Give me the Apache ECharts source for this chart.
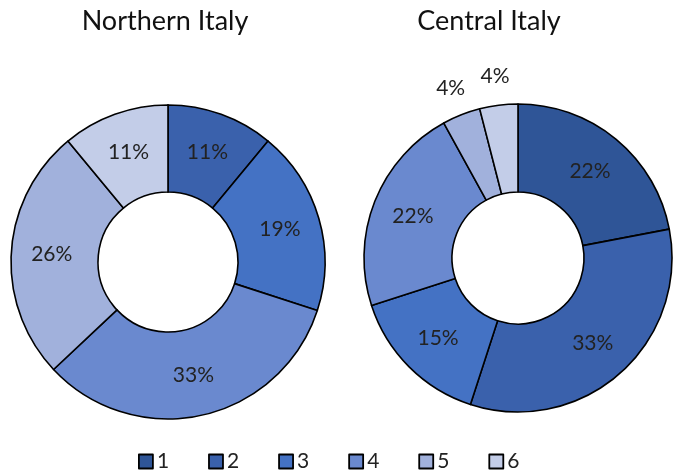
<!DOCTYPE html>
<html><head><meta charset="utf-8">
<script src="https://cdn.jsdelivr.net/npm/echarts@6/dist/echarts.min.js"></script>
<style>html,body{margin:0;padding:0;background:#fff}#c{width:683px;height:476px}</style>
</head><body><div id="c"></div>
<script>
const categories = ['1','2','3','4','5','6'];
const northernValues = [0, 11, 19, 33, 26, 11];
const centralValues = [22, 33, 15, 22, 4, 4];
const titles = ['Northern Italy', 'Central Italy'];
const colors = ['#2F5597', '#3A61AC', '#4472C4', '#6A89CF', '#A1B1DC', '#C3CDE8'];
const FONT = 'Lato';

const chart = echarts.init(document.getElementById('c'));
function mkData(vals, outsideSmall) {
  return categories.map((c, i) => {
    const d = { name: c, value: vals[i] };
    if (outsideSmall && vals[i] < 6) {
      d.label = { position: 'outside', distanceToLabelLine: 0 };
      d.labelLine = { show: false, length: 29, length2: 0 };
    }
    return d;
  });
}
const labelBase = {
  show: true, position: 'inside', color: '#222', fontFamily: FONT, fontSize: 21,
  formatter: p => p.value > 0 ? p.value + '%' : ''
};
const itemStyle = { borderColor: '#000', borderWidth: 1.6 };
const centralLayout = p => (centralValues[p.dataIndex] < 6 ? { align: 'center' } : {});
chart.setOption({
  animation: false,
  color: colors,
  title: [
    { text: titles[0], left: 160, top: 3, textAlign: 'center', textStyle: { fontFamily: FONT, fontSize: 27, fontWeight: 'normal', color: '#111' } },
    { text: titles[1], left: 484, top: 3, textAlign: 'center', textStyle: { fontFamily: FONT, fontSize: 27, fontWeight: 'normal', color: '#111' } }
  ],
  legend: {
    data: categories, left: 133, top: 446, itemWidth: 14, itemHeight: 14, itemGap: 39,
    icon: 'rect',
    itemStyle: { borderColor: '#000', borderWidth: 1.8 },
    textStyle: { fontFamily: FONT, fontSize: 21, color: '#222', padding: [0,0,0,-1] }
  },
  series: [
    { type: 'pie', center: [168, 262], radius: [70, 157], startAngle: 90, clockwise: true,
      avoidLabelOverlap: false, label: labelBase, labelLine: { show: false }, itemStyle,
      data: mkData(northernValues, false) },
    { type: 'pie', center: [518, 258], radius: [66, 154], startAngle: 90, clockwise: true,
      avoidLabelOverlap: false, label: labelBase, labelLine: { show: false }, itemStyle,
      labelLayout: centralLayout,
      data: mkData(centralValues, true) }
  ]
});
</script></body></html>
